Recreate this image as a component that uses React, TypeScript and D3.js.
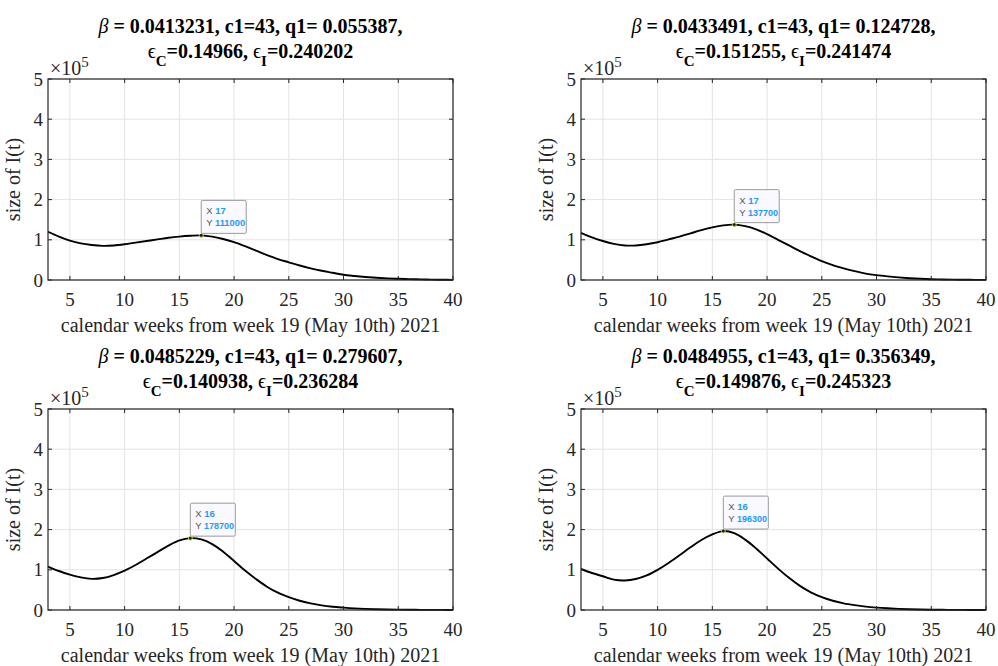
import React, { useEffect, useRef } from "react";
import * as d3 from "d3";

// calendar weeks (x) shared by all four runs
const weeks = [3, 4, 5, 6, 7, 8, 9, 10, 11, 12, 13, 14, 15, 16, 17, 18, 19, 20, 21, 22,
  23, 24, 25, 26, 27, 28, 29, 30, 31, 32, 33, 34, 35, 36, 37, 38, 39, 40];

// size of I(t)
const runA = [120000, 108000, 98000, 91000, 87000, 85000, 86000, 89000, 93000, 97000,
  101000, 105000, 108000, 110000, 111000, 108000, 102000, 94000, 84000, 73000,
  62000, 52000, 44000, 36000, 29000, 23000, 18000, 13000, 10000, 7500,
  5500, 4000, 3000, 2200, 1500, 1000, 600, 400];
const runB = [117000, 106000, 97000, 90000, 86000, 86000, 89000, 94000, 101000, 108000,
  116000, 124000, 131000, 136000, 137700, 134000, 126000, 114000, 100000, 86000,
  72000, 59000, 47000, 37000, 29000, 22000, 16000, 12000, 9000, 6500,
  4500, 3000, 2000, 1400, 1000, 600, 400, 200];
const runC = [108000, 97000, 88000, 81000, 77500, 79500, 87000, 98000, 112000, 128000,
  144000, 160000, 173000, 178700, 175500, 164000, 145000, 122000, 98000, 77000,
  58000, 43000, 32000, 23000, 16500, 11500, 8000, 5800, 4000, 2800,
  1900, 1300, 900, 600, 400, 300, 200, 100];
const runD = [102000, 92000, 84000, 75500, 73500, 77000, 86000, 100000, 117000, 136000,
  156000, 174000, 188000, 196300, 191000, 175000, 153000, 128000, 103000, 80000,
  60000, 44000, 32000, 23000, 16500, 12000, 8500, 6000, 4200, 2900,
  2000, 1300, 800, 500, 300, 200, 100, 100];

const series = [runA, runB, runC, runD];
const betas = ["0.0413231", "0.0433491", "0.0485229", "0.0484955"];
const q1s = ["0.055387", "0.124728", "0.279607", "0.356349"];
const epsC = ["0.14966", "0.151255", "0.140938", "0.149876"];
const epsI = ["0.240202", "0.241474", "0.236284", "0.245323"];
const tipWeek = [17, 17, 16, 16];
const tipValue = [111000, 137700, 178700, 196300];

const xTicks = [5, 10, 15, 20, 25, 30, 35, 40];
const yTicks = [0, 1, 2, 3, 4, 5];

const W = 998, H = 666;
const lefts = [48, 581];
const tops = [79, 409];
const pw = 405, ph = 201;
const serif = "'Liberation Serif', 'Times New Roman', serif";
const sans = "'Liberation Sans', Arial, sans-serif";
const axisColor = "#262626";

export default function App() {
  const ref = useRef<SVGSVGElement>(null);

  useEffect(() => {
    const svg = d3.select(ref.current);
    svg.selectAll("*").remove();

    series.forEach((data, i) => {
      const x0 = lefts[i % 2], y0 = tops[Math.floor(i / 2)];
      const xScale = d3.scaleLinear().domain([3, 40]).range([0, pw]);
      const yScale = d3.scaleLinear().domain([0, 5]).range([ph, 0]);
      const g = svg.append("g").attr("transform", `translate(${x0},${y0})`);

      // grid
      g.selectAll(".gx").data(xTicks).enter().append("line")
        .attr("x1", (d) => xScale(d)).attr("x2", (d) => xScale(d))
        .attr("y1", 0).attr("y2", ph)
        .attr("stroke", "#e3e3e3").attr("stroke-width", 1);
      g.selectAll(".gy").data(yTicks).enter().append("line")
        .attr("y1", (d) => yScale(d)).attr("y2", (d) => yScale(d))
        .attr("x1", 0).attr("x2", pw)
        .attr("stroke", "#e3e3e3").attr("stroke-width", 1);

      // curve
      const line = d3.line<number>()
        .x((d, k) => xScale(weeks[k]))
        .y((d) => yScale(d / 1e5))
        .curve(d3.curveCatmullRom);
      g.append("path").datum(data)
        .attr("d", line)
        .attr("fill", "none").attr("stroke", "#000").attr("stroke-width", 1.9);

      // box + inward ticks on all sides
      g.append("rect").attr("width", pw).attr("height", ph)
        .attr("fill", "none").attr("stroke", axisColor).attr("stroke-width", 1.2);
      const tl = 4;
      xTicks.forEach((t) => {
        g.append("line").attr("x1", xScale(t)).attr("x2", xScale(t))
          .attr("y1", ph).attr("y2", ph - tl).attr("stroke", axisColor);
        g.append("line").attr("x1", xScale(t)).attr("x2", xScale(t))
          .attr("y1", 0).attr("y2", tl).attr("stroke", axisColor);
        g.append("text").attr("x", xScale(t)).attr("y", ph + 26)
          .attr("text-anchor", "middle").attr("font-family", serif)
          .attr("font-size", 19).attr("fill", axisColor).text(t);
      });
      yTicks.forEach((t) => {
        g.append("line").attr("y1", yScale(t)).attr("y2", yScale(t))
          .attr("x1", 0).attr("x2", tl).attr("stroke", axisColor);
        g.append("line").attr("y1", yScale(t)).attr("y2", yScale(t))
          .attr("x1", pw).attr("x2", pw - tl).attr("stroke", axisColor);
        g.append("text").attr("x", -5).attr("y", yScale(t) + 6.5)
          .attr("text-anchor", "end").attr("font-family", serif)
          .attr("font-size", 19).attr("fill", axisColor).text(t);
      });

      // exponent
      const ex = g.append("text").attr("x", 2).attr("y", -4)
        .attr("font-family", serif).attr("font-size", 20).attr("fill", axisColor);
      ex.append("tspan").text("\u00d710");
      ex.append("tspan").attr("dy", -8).attr("font-size", 15).text("5");

      // axis labels
      g.append("text").attr("x", pw / 2).attr("y", ph + 52)
        .attr("text-anchor", "middle").attr("font-family", serif)
        .attr("font-size", 20).attr("fill", axisColor)
        .text("calendar weeks from week 19 (May 10th) 2021");
      g.append("text")
        .attr("transform", `translate(-28,${ph / 2}) rotate(-90)`)
        .attr("text-anchor", "middle").attr("font-family", serif)
        .attr("font-size", 20).attr("fill", axisColor)
        .text("size of I(t)");

      // title
      const t1 = g.append("text").attr("x", pw / 2).attr("y", -46)
        .attr("text-anchor", "middle").attr("font-family", serif)
        .attr("font-size", 20).attr("font-weight", "bold").attr("fill", "#000");
      t1.append("tspan").attr("font-style", "italic").attr("font-weight", "normal").text("\u03b2");
      t1.append("tspan").text(` = ${betas[i]}, c1=43, q1= ${q1s[i]},`);
      const t2 = g.append("text").attr("x", pw / 2).attr("y", -21)
        .attr("text-anchor", "middle").attr("font-family", serif)
        .attr("font-size", 20).attr("font-weight", "bold").attr("fill", "#000");
      t2.append("tspan").attr("font-weight", "normal").text("\u03f5");
      t2.append("tspan").attr("dy", 8).attr("font-size", 15).text("C");
      t2.append("tspan").attr("dy", -8).text(`=${epsC[i]}, `);
      t2.append("tspan").attr("font-weight", "normal").text("\u03f5");
      t2.append("tspan").attr("dy", 8).attr("font-size", 15).text("I");
      t2.append("tspan").attr("dy", -8).text(`=${epsI[i]}`);

      // datatip
      const px = xScale(tipWeek[i]), py = yScale(tipValue[i] / 1e5);
      const tip = g.append("g").attr("transform", `translate(${px},${py - 35})`);
      tip.append("rect").attr("width", 45).attr("height", 33).attr("rx", 1.5)
        .attr("fill", "#f9f9ff").attr("stroke", "#9a9a9a").attr("stroke-width", 1);
      const lx = tip.append("text").attr("x", 5).attr("y", 14)
        .attr("font-family", sans).attr("font-size", 9.5);
      lx.append("tspan").attr("fill", "#555").text("X ");
      lx.append("tspan").attr("fill", "#1a9bff").attr("font-weight", "bold").text(tipWeek[i]);
      const ly = tip.append("text").attr("x", 5).attr("y", 26)
        .attr("font-family", sans).attr("font-size", 9.5);
      ly.append("tspan").attr("fill", "#555").text("Y ");
      ly.append("tspan").attr("fill", "#1a9bff").attr("font-weight", "bold")
        .attr("textLength", 30).attr("lengthAdjust", "spacingAndGlyphs").text(tipValue[i]);
      g.append("circle").attr("cx", px).attr("cy", py).attr("r", 2)
        .attr("fill", "#222").attr("stroke", "#e8e85a").attr("stroke-width", 0.8);
    });
  }, []);

  return (
    <svg ref={ref} width={W} height={H}
      style={{ position: "absolute", left: 0, top: 0, background: "#fff" }} />
  );
}
